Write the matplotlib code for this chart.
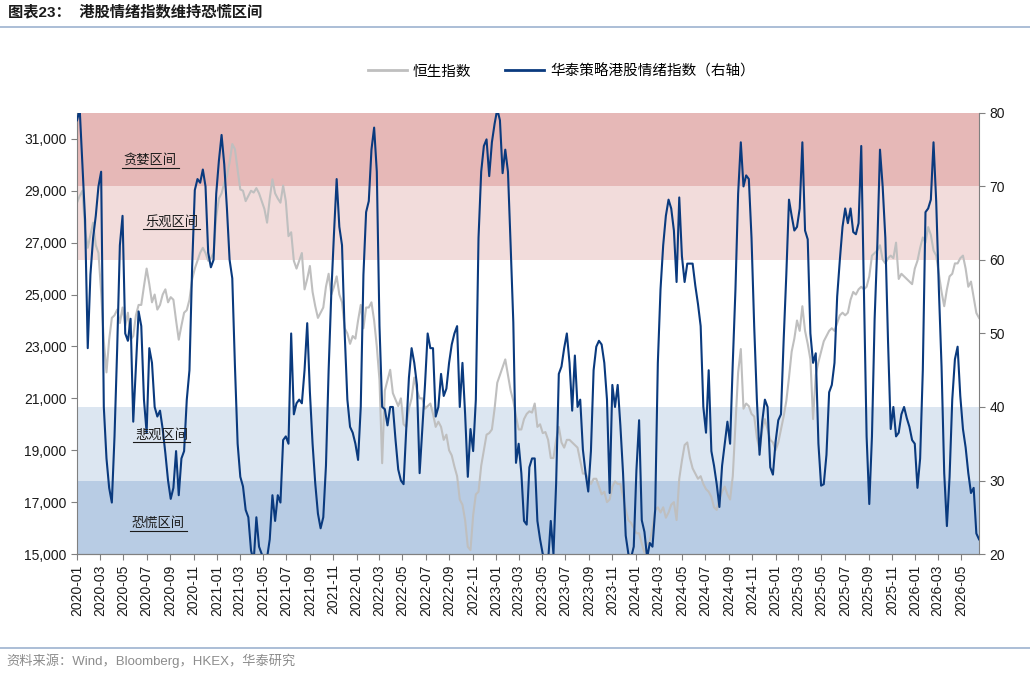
import matplotlib
matplotlib.use("Agg")
import matplotlib.pyplot as plt
import matplotlib.dates as mdates
from matplotlib.patches import Rectangle
from matplotlib.ticker import FuncFormatter
from matplotlib.lines import Line2D
import pandas as pd

plt.rcParams['font.family'] = ['Liberation Sans', 'Noto Sans CJK SC', 'DejaVu Sans']

# weekly samples starting 2020-01-01
hsi = [
    28540, 28800, 29000, 27500, 26800, 27300, 27770, 26900, 26600, 25100,
    23200, 22000, 23260, 24100, 24200, 24420, 23900, 24500, 23800, 24300,
    23260, 23400, 24200, 24600, 24600, 25320, 26000, 25400, 24700, 25000,
    24420, 24600, 25000, 25200, 24700, 24900, 24800, 24000, 23260, 23800,
    24300, 24400, 24800, 25580, 26000, 26300, 26610, 26800, 26600, 26300,
    26400, 26600, 28000, 28700, 28900, 29300, 29570, 30100, 30800, 30600,
    29800, 29050, 29000, 28600, 28800, 29000, 28930, 29100, 28900, 28600,
    28300, 27770, 28700, 29440, 28900, 28700, 28540, 29200, 28600, 27250,
    27400, 26300, 26000, 26300, 26600, 25200, 25600, 26100, 25100, 24550,
    24100, 24300, 24500, 25300, 25800, 25000, 25300, 25700, 25000, 24700,
    23700, 23500, 23100, 23400, 23300, 24000, 24600, 23700, 24500, 24500,
    24700, 24000, 23000, 21700, 18500, 21300, 21700, 22100, 21200, 20950,
    20700, 21000, 20000, 19900, 20600, 21000, 21800, 21300, 21000, 21000,
    20600, 20700, 20800, 20400, 19900, 20100, 19900, 19400, 19600, 19000,
    18800, 18370, 18000, 17100, 16900, 16300, 15280, 15150, 16500, 17300,
    17400, 18400, 19000, 19600, 19660, 19800, 20600, 21600, 21900, 22200,
    22500, 21900, 21300, 20900, 20300, 19800, 19800, 20200, 20400, 20500,
    20450, 20800, 19900, 20000, 19660, 19700, 19400, 18700, 18700, 19400,
    19900, 19300, 19100, 19400, 19400, 19300, 19200, 19100, 18600, 18100,
    18100, 17900, 17700, 17900, 17900, 17600, 17300, 17400, 17000, 17100,
    17600, 17800, 17700, 17700, 17200, 16700, 16300, 16200, 16000, 15800,
    15800, 15400, 15050, 15400, 15500, 16000, 16700, 16800, 16600, 16800,
    16400, 16600, 16900, 17000, 16310, 17900, 18600, 19200, 19300, 18700,
    18300, 18100, 17900, 18000, 17700, 17500, 17400, 17200, 16800, 16700,
    17100, 17400, 17600, 17300, 17100, 18000, 20000, 22000, 22900, 20600,
    20800, 20700, 20400, 20300, 19500, 19000, 19800, 20200, 19800, 19400,
    19300, 19000, 19300, 19800, 20300, 20900, 21800, 22800, 23300, 24000,
    23600, 24550, 23600, 23100, 22500, 20200, 21900, 22400, 22800, 23200,
    23400, 23600, 23700, 23600, 23900, 24200, 24300, 24200, 24300, 24800,
    25100, 25000, 25200, 25300, 25200, 25300, 25700, 26500, 26600, 26700,
    26900, 26350, 26200, 26400, 26500, 26400, 27000, 25600, 25800, 25700,
    25600, 25500, 25400, 26000, 26300, 26800, 27200, 27000, 27600, 27300,
    26700, 26500, 25800, 25100, 24550, 25200, 25700, 25800, 26200, 26200,
    26400, 26500, 26000, 25300, 25500, 24900, 24290, 24100,
]

sentiment = [
    79, 80.5, 73, 65.5, 48, 58, 63, 66, 70, 72,
    40, 33, 29, 27, 36, 48, 62, 66, 50, 49,
    52, 38, 45.5, 53, 51, 41, 36.5, 48, 46, 40,
    38.7, 39.5, 37, 33.7, 30, 27.5, 29, 34, 28, 33,
    34, 41, 45, 59, 69.5, 71, 70.5, 72.3, 70, 61,
    59, 60, 69, 73.5, 77, 73, 67, 60, 57.5, 45.5,
    35, 30.5, 29.2, 26, 25, 20.5, 19, 25, 21, 20,
    19, 19.5, 22, 28, 24.5, 28, 27, 35.5, 36, 35,
    50, 39, 40.5, 41, 40.5, 45, 51.4, 42, 35, 29.6,
    25.5, 23.5, 25, 32, 45, 55.5, 63.6, 71, 64.5, 62,
    50, 41, 37.3, 36.5, 35, 32.8, 40, 58, 66.5, 68,
    75, 78, 72, 51, 40, 39.7, 37.5, 40, 40, 35.5,
    31.5, 30, 29.5, 37, 44, 48, 46, 43, 31, 37,
    43, 50, 48, 48, 38.7, 40, 44.5, 41.5, 42.5, 46,
    48.5, 50, 51, 40, 46, 39, 30.5, 37, 34, 41,
    63, 72, 75.5, 76.4, 71.4, 76, 78.5, 80.5, 79, 71.8,
    75, 72, 62, 51.5, 32.4, 35, 31, 24.5, 24, 31.8,
    33, 33, 24.5, 22, 20, 19.5, 19, 24.5, 20, 29.6,
    44.5, 45.5, 48, 50, 46, 39.5, 47, 40, 41, 34.2,
    31, 28.5, 34, 45, 48.2, 49, 48.5, 46, 41, 28.3,
    43, 40, 43, 37.5, 31, 22.5, 20, 19.5, 21, 31.4,
    38.2, 24.6, 23, 19.5, 21.5, 21, 26, 46, 56, 62,
    66, 68.2, 67, 64, 57, 68.5, 60.5, 57, 59.5, 59.5,
    59.5, 56.5, 54, 51, 40, 36.5, 45, 34, 32, 29.5,
    26.4, 32, 35, 38, 35, 46, 56, 69, 76, 70,
    71.5, 71, 63, 51, 41, 33.5, 38, 41, 40, 31.8,
    30.8, 35.3, 38.2, 39, 49, 58, 68.2, 66, 64, 64.5,
    67, 76, 64, 62.8, 50, 46, 47.3, 35, 29.3, 29.5,
    33.5, 42, 43, 46, 55, 60, 64.5, 67, 65, 67,
    63.8, 63.5, 65, 75.5, 56, 36, 26.8, 36, 52, 62,
    75, 70, 63, 49, 37, 40, 36, 36.5, 39, 40,
    38.5, 37.3, 35.5, 35, 29, 33, 45, 66.5, 67, 68.2,
    76, 68, 56, 45.5, 31, 23.8, 30.5, 41, 46.5, 48.2,
    41.5, 37, 34.5, 31, 28.3, 29, 22.8, 22,
]

dates = pd.date_range("2020-01-01", periods=len(hsi), freq="7D")

band_edges = [20, 30, 40, 60, 70, 80]
band_colors = ["#B8CCE4", "#DCE6F1", "#FFFFFF", "#F2DCDB", "#E6B8B7"]
band_labels = ["恐慌区间", "悲观区间", "", "乐观区间", "贪婪区间"]

fig = plt.figure(figsize=(10.30, 6.74), dpi=100)
ax1 = fig.add_axes([0.0748, 0.178, 0.8757, 0.6545])
ax2 = ax1.twinx()

ax1.set_zorder(2)
ax2.set_zorder(1)
ax1.patch.set_visible(False)

ax2.set_ylim(20, 80)
ax1.set_ylim(15000, 32000)
ax1.set_xlim(dates[0], dates[-1])

for lo, hi, c in zip(band_edges[:-1], band_edges[1:], band_colors):
    ax2.add_patch(Rectangle((0, lo), 1, hi - lo, transform=ax2.get_yaxis_transform(),
                            facecolor=c, edgecolor="none", zorder=0))

ax1.plot(dates, hsi, color="#BFBFBF", lw=1.5, zorder=2)
ax1.plot(dates, sentiment, color="#0A3A7E", lw=1.5, zorder=3,
         transform=ax2.transData)
ax2.set_xlim(dates[0], dates[-1])

ax1.set_yticks(range(15000, 31001, 2000))
ax1.yaxis.set_major_formatter(FuncFormatter(lambda v, p: f"{int(v):,}"))
ax2.set_yticks(range(20, 81, 10))

ax1.xaxis.set_major_locator(mdates.MonthLocator(bymonth=[1, 3, 5, 7, 9, 11]))
ax1.xaxis.set_major_formatter(mdates.DateFormatter("%Y-%m"))

spine_col = "#808080"
for ax in (ax1, ax2):
    ax.spines["top"].set_visible(False)
    for s in ("left", "right", "bottom"):
        ax.spines[s].set_color(spine_col)
    ax.tick_params(colors=spine_col, labelcolor="#1A1A1A", labelsize=10,
                   length=4, direction="out")
ax1.tick_params(axis="x", labelrotation=90)
ax2.spines["left"].set_visible(False)
ax1.spines["right"].set_visible(False)

# band labels, underlined
label_pos = {"贪婪区间": (0.081, 0.893), "乐观区间": (0.105, 0.753),
             "悲观区间": (0.094, 0.27), "恐慌区间": (0.09, 0.07)}
texts = []
for lab in band_labels:
    if not lab:
        continue
    x, y = label_pos[lab]
    t = ax1.text(x, y, lab, transform=ax1.transAxes, ha="center", va="center",
                 fontsize=9.5, style="italic", color="#1A1A1A", zorder=5,
                 family=["Noto Sans CJK SC"])
    texts.append(t)

fig.canvas.draw()
inv = ax1.transAxes.inverted()
for t in texts:
    bb = t.get_window_extent()
    (x0, y0), (x1, _) = inv.transform([(bb.x0 - 2, bb.y0 - 1), (bb.x1 + 2, bb.y0)])
    ax1.plot([x0, x1], [y0, y0], transform=ax1.transAxes, color="#1A1A1A",
             lw=0.8, zorder=5)

# legend
handles = [Line2D([], [], color="#BFBFBF", lw=2),
           Line2D([], [], color="#0A3A7E", lw=2)]
fig.legend(handles, ["恒生指数", "华泰策略港股情绪指数（右轴）"], loc="center",
           bbox_to_anchor=(0.545, 0.894), ncol=2, frameon=False, fontsize=10.5,
           handlelength=2.7, columnspacing=2.3, handletextpad=0.4)

# title, separators, source
fig.text(0.008, 0.982, "图表23：  港股情绪指数维持恐慌区间", fontsize=11,
         fontweight="bold", ha="left", va="center", color="#1A1A1A")
fig.add_artist(Line2D([0, 1], [0.96, 0.96], transform=fig.transFigure,
                      color="#9DB3CF", lw=1.2))
fig.add_artist(Line2D([0, 1], [0.039, 0.039], transform=fig.transFigure,
                      color="#9DB3CF", lw=1.2))
fig.text(0.006, 0.019, "资料来源：Wind，Bloomberg，HKEX，华泰研究", fontsize=9.5,
         ha="left", va="center", color="#8C8C8C")

fig.savefig("out.png", dpi=100)
